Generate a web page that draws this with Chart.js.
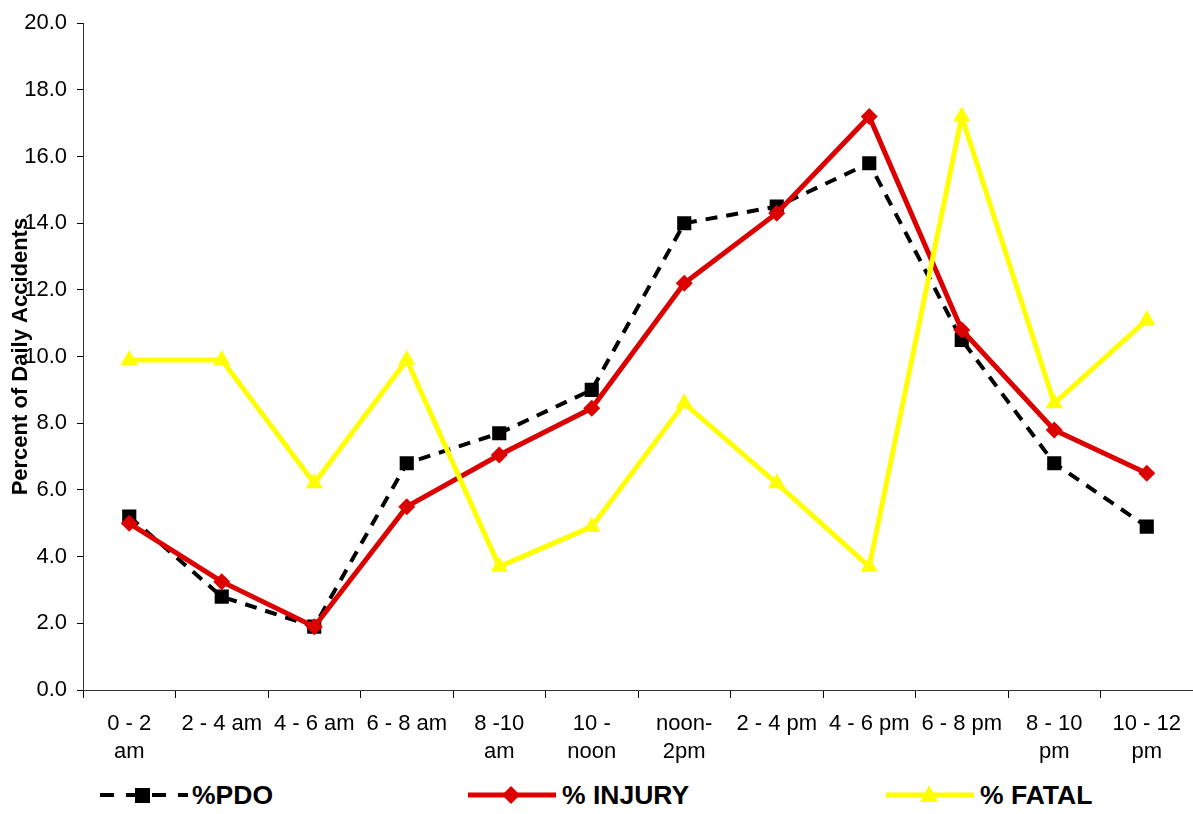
<!DOCTYPE html>
<html>
<head>
<meta charset="utf-8">
<script src="https://cdn.jsdelivr.net/npm/chart.js@4.4.1/dist/chart.umd.min.js"></script>
<style>
  html, body { margin: 0; padding: 0; background: #fff; }
  #wrap { position: relative; width: 1193px; height: 814px; font-family: "Liberation Sans", Arial, sans-serif; }
  #chart { position: absolute; left: 0; top: 0; }
  .leg { position: absolute; top: 780px; height: 30px; display: flex; align-items: center; font-weight: bold; font-size: 26.5px; color: #000; }
  .leg svg { margin-right: 4px; }
</style>
</head>
<body>
<div id="wrap">
  <canvas id="chart" width="1193" height="770"></canvas>
  <div class="leg" style="left:100px">
    <svg width="88" height="30"><line x1="0" y1="15" x2="88" y2="15" stroke="#000" stroke-width="4" stroke-dasharray="14,12"/><rect x="35" y="8" width="15" height="15" fill="#000"/></svg>%PDO
  </div>
  <div class="leg" style="left:468px">
    <svg width="90" height="30"><line x1="0" y1="15" x2="88" y2="15" stroke="#dd0000" stroke-width="5"/><polygon points="43,6 52,15 43,24 34,15" fill="#dd0000"/></svg>% INJURY
  </div>
  <div class="leg" style="left:886px">
    <svg width="90" height="30"><line x1="0" y1="15" x2="88" y2="15" stroke="#ffff00" stroke-width="5"/><polygon points="43,5 52,22 34,22" fill="#ffff00"/></svg>% FATAL
  </div>
</div>
<script>
// time-of-day buckets
var categories = [['0 - 2', 'am'], '2 - 4 am', '4 - 6 am', '6 - 8 am', ['8 -10', 'am'], ['10 -', 'noon'],
  ['noon-', '2pm'], '2 - 4 pm', '4 - 6 pm', '6 - 8 pm', ['8 - 10', 'pm'], ['10 - 12', 'pm']];

var pdo    = [5.2, 2.8, 1.9, 6.8, 7.7, 9.0, 14.0, 14.5, 15.8, 10.5, 6.8, 4.9];
var injury = [5.0, 3.25, 1.9, 5.5, 7.05, 8.45, 12.2, 14.3, 17.2, 10.8, 7.8, 6.5];
var fatal  = [9.9, 9.9, 6.2, 9.9, 3.7, 4.9, 8.6, 6.2, 3.7, 17.2, 8.6, 11.1];

var yTicks = { min: 0, max: 20, step: 2 };

var font = { family: '"Liberation Sans", Arial, sans-serif', size: 22 };

new Chart(document.getElementById('chart').getContext('2d'), {
  type: 'line',
  data: {
    labels: categories,
    datasets: [{
      label: '%PDO',
      data: pdo,
      borderColor: '#000',
      backgroundColor: '#000',
      borderWidth: 4,
      borderDash: [12, 9],
      pointStyle: 'rect',
      pointRadius: 10,
      pointBorderWidth: 0,
      tension: 0,
      order: 2
    }, {
      label: '% INJURY',
      data: injury,
      borderColor: '#dd0000',
      backgroundColor: '#dd0000',
      borderWidth: 5,
      pointStyle: 'rectRot',
      pointRadius: 8.5,
      pointBorderWidth: 0,
      tension: 0,
      order: 1
    }, {
      label: '% FATAL',
      data: fatal,
      borderColor: '#ffff00',
      backgroundColor: '#ffff00',
      borderWidth: 5,
      pointStyle: 'triangle',
      pointRadius: 10,
      pointBorderWidth: 0,
      tension: 0,
      order: 0
    }]
  },
  options: {
    responsive: false,
    animation: false,
    layout: { autoPadding: false, padding: { top: 23, right: 0, left: 0, bottom: 0 } },
    plugins: { legend: { display: false }, tooltip: { enabled: false } },
    scales: {
      x: {
        offset: true,
        grid: { display: true, offset: true, drawOnChartArea: false, tickLength: 8, color: '#000' },
        border: { color: '#333', width: 1 },
        ticks: { color: '#000', font: Object.assign({ lineHeight: 1.28 }, font), maxRotation: 0, autoSkip: false, padding: 12 },
        afterFit: function(scale) { scale.height = 80; }
      },
      y: {
        min: yTicks.min,
        max: yTicks.max,
        grid: { drawOnChartArea: false, tickLength: 6, color: '#000' },
        border: { color: '#333', width: 1 },
        ticks: {
          stepSize: yTicks.step,
          color: '#000',
          font: font,
          padding: 10,
          callback: function(v) { return v.toFixed(1); }
        },
        title: {
          display: true,
          text: 'Percent of Daily Accidents',
          color: '#000',
          font: { family: font.family, size: 22, weight: 'bold' },
          padding: { top: 8, bottom: 0 }
        },
        afterFit: function(scale) { scale.width = 83; }
      }
    }
  }
});
</script>
</body>
</html>
